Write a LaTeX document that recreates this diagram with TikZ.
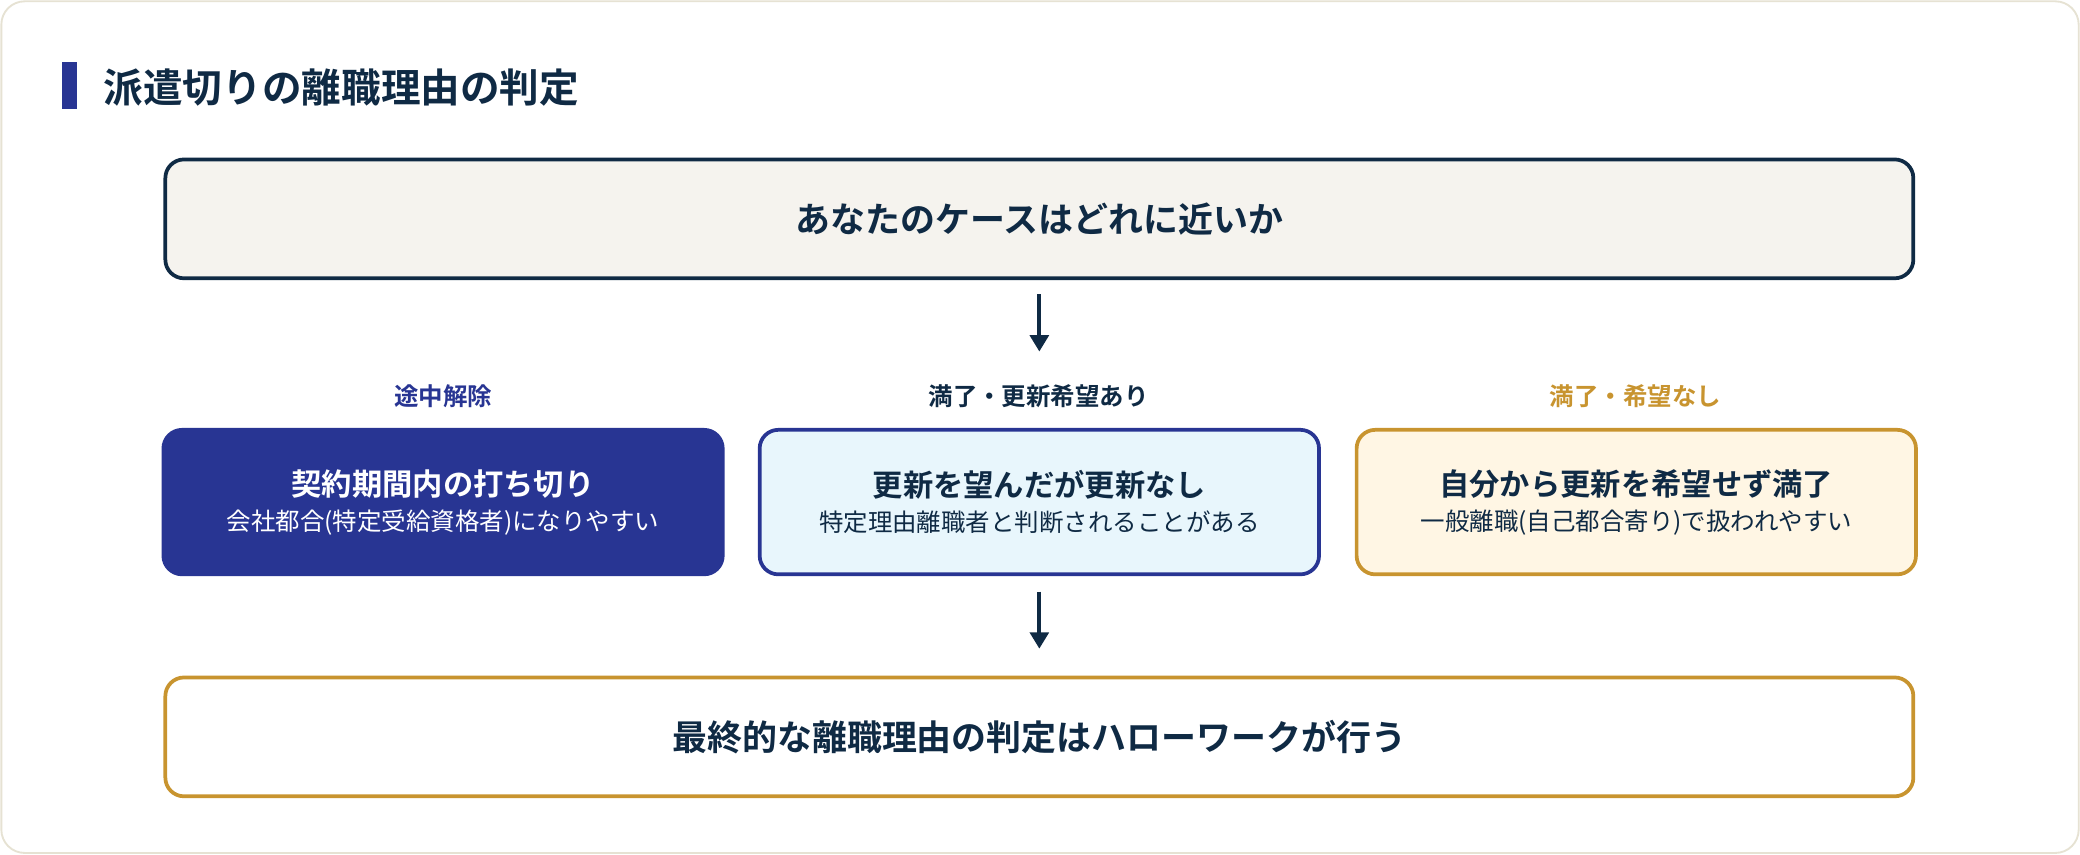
\documentclass[tikz,border=0pt]{standalone}
\usepackage{fontspec}
\setmainfont{Noto Sans CJK JP}[BoldFont={Noto Sans CJK JP Bold}]
\usetikzlibrary{arrows.meta}
\definecolor{navy}{HTML}{283593}
\definecolor{ink}{HTML}{0F2A44}
\definecolor{gold}{HTML}{C8942F}
\definecolor{paper}{HTML}{F5F3EE}
\definecolor{sky}{HTML}{E8F6FC}
\definecolor{cream}{HTML}{FFF6E4}
\definecolor{edge}{HTML}{E6E2D3}
\tikzset{
  box/.style={draw, rounded corners=8pt, line width=1.6pt, minimum height=51pt, align=center, text=ink},
  wide/.style={box, minimum width=750pt, font=\bfseries\fontsize{15}{18}\selectfont},
  card/.style={box, minimum width=240pt, minimum height=62pt},
  tag/.style={font=\bfseries\fontsize{10.5}{12}\selectfont},
  arr/.style={-{Triangle[length=7pt,width=8pt]}, line width=1.6pt, draw=ink}
}
\begin{document}
\begin{tikzpicture}[x=0.02cm, y=-0.02cm]
  \draw[edge, fill=white, line width=0.8pt, rounded corners=10pt] (1,1) rectangle (1567,643);
  \useasboundingbox (0,0) rectangle (1568,644);
  \fill[navy] (47,47) rectangle (58,82);
  \node[anchor=west, text=ink, font=\bfseries\fontsize{17}{20}\selectfont] (title) at (72,66) {派遣切りの離職理由の判定};

  \node[wide, fill=paper, draw=ink] (top) at (783.5,165) {あなたのケースはどれに近いか};

  \node[tag, text=navy] (lab1) at (334,299) {途中解除};
  \node[tag, text=ink] (lab2) at (783,299) {満了・更新希望あり};
  \node[tag, text=gold] (lab3) at (1233,299) {満了・希望なし};

  \node[card, fill=navy, draw=navy, text=white] (left) at (334,378.5)
    {{\bfseries\fontsize{13}{16}\selectfont 契約期間内の打ち切り}\\[3pt]{\fontsize{10.5}{13}\selectfont 会社都合(特定受給資格者)になりやすい}};
  \node[card, fill=sky, draw=navy] (mid) at (783.5,378.5)
    {{\bfseries\fontsize{13}{16}\selectfont 更新を望んだが更新なし}\\[3pt]{\fontsize{10.5}{13}\selectfont 特定理由離職者と判断されることがある}};
  \node[card, fill=cream, draw=gold] (right) at (1233.5,378.5)
    {{\bfseries\fontsize{13}{16}\selectfont 自分から更新を希望せず満了}\\[3pt]{\fontsize{10.5}{13}\selectfont 一般離職(自己都合寄り)で扱われやすい}};

  \node[wide, fill=white, draw=gold] (bottom) at (783.5,555.5) {最終的な離職理由の判定はハローワークが行う};

  \coordinate (a1) at (783.5,222);
  \coordinate (a2) at (783.5,265);
  \coordinate (b1) at (783.5,446);
  \coordinate (b2) at (783.5,489);
  \draw[arr] (a1) -- (a2);
  \draw[arr] (b1) -- (b2);
\end{tikzpicture}
\end{document}
